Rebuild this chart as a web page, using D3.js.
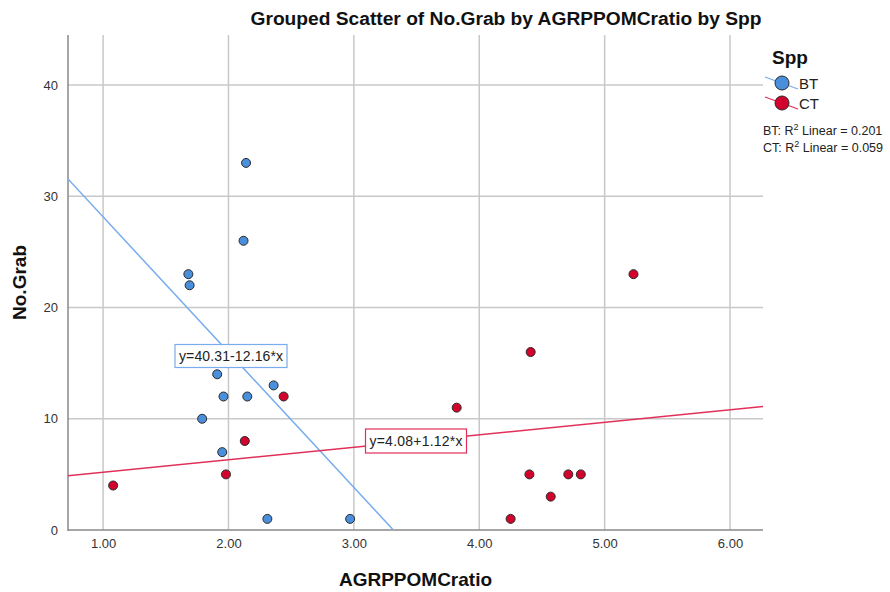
<!DOCTYPE html>
<html><head><meta charset="utf-8">
<script src="https://cdn.jsdelivr.net/npm/d3@7"></script>
<style>body{margin:0;background:#fff;font-family:"Liberation Sans",Arial,sans-serif;}</style>
</head><body>
<svg id="c" width="890" height="592"></svg>
<script>
const btX = [2.14, 2.12, 1.68, 1.69, 1.91, 2.36, 1.96, 2.15, 1.79, 1.95, 2.31, 2.97];
const btY = [33, 26, 23, 22, 14, 13, 12, 12, 10, 7, 1, 1];
const ctX = [1.08, 1.98, 2.13, 2.44, 3.82, 4.41, 5.23, 4.40, 4.71, 4.81, 4.57, 4.25];
const ctY = [4, 5, 8, 12, 11, 16, 23, 5, 5, 5, 3, 1];
const xTicks = [1, 2, 3, 4, 5, 6];
const yTicks = [0, 10, 20, 30, 40];
const fits = [{name:"BT", a:40.31, b:-12.16, label:"y=40.31-12.16*x", r2:"0.201"},
              {name:"CT", a:4.08, b:1.12, label:"y=4.08+1.12*x", r2:"0.059"}];

const svg = d3.select("#c");
const L=68, R=763, T=35, B=530;
const x = d3.scaleLinear().domain([0.72, 6.263]).range([L, R]);
const y = d3.scaleLinear().domain([0, 44.5]).range([B, T]);
const col = {BT:{fill:"#4a8fdc", line:"#78acec"}, CT:{fill:"#d2042d", line:"#e0305a"}};

// grid
svg.append("g").selectAll("line").data(xTicks).join("line")
  .attr("x1", d=>x(d)).attr("x2", d=>x(d)).attr("y1", T).attr("y2", B)
  .attr("stroke", "#c8c8c8").attr("stroke-width", 1.5);
svg.append("g").selectAll("line").data(yTicks.filter(d=>d>0)).join("line")
  .attr("x1", L).attr("x2", R).attr("y1", d=>y(d)).attr("y2", d=>y(d))
  .attr("stroke", "#c8c8c8").attr("stroke-width", 1.5);

// axes
const xa = svg.append("g").attr("transform", `translate(0,${B})`)
  .call(d3.axisBottom(x).tickValues(xTicks).tickFormat(d3.format(".2f")).tickSize(0).tickPadding(9));
const ya = svg.append("g").attr("transform", `translate(${L},0)`)
  .call(d3.axisLeft(y).tickValues(yTicks).tickSize(0).tickPadding(10));
[xa, ya].forEach(g=>{
  g.select(".domain").remove();
  g.selectAll("text").attr("font-size", 13).attr("fill", "#333").attr("font-family", "Liberation Sans, Arial");
});
svg.append("line").attr("x1", L).attr("x2", L).attr("y1", T).attr("y2", B+1).attr("stroke", "#888").attr("stroke-width", 1.5);
svg.append("line").attr("x1", L).attr("x2", R).attr("y1", B).attr("y2", B).attr("stroke", "#888").attr("stroke-width", 1.5);

// fit lines
svg.append("clipPath").attr("id", "pc").append("rect").attr("x", L).attr("y", T).attr("width", R-L).attr("height", B-T);
const [x0, x1] = x.domain();
fits.forEach(f=>{
  svg.append("line").attr("clip-path", "url(#pc)")
    .attr("x1", x(x0)).attr("y1", y(f.a+f.b*x0)).attr("x2", x(x1)).attr("y2", y(f.a+f.b*x1))
    .attr("stroke", col[f.name].line).attr("stroke-width", 1.5);
});

// points
function pts(xs, ys, name){
  svg.append("g").selectAll("circle").data(xs.map((d,i)=>[d, ys[i]])).join("circle")
    .attr("cx", d=>x(d[0])).attr("cy", d=>y(d[1])).attr("r", 4.5)
    .attr("fill", col[name].fill).attr("stroke", "#2a2a2a").attr("stroke-width", 1);
}
pts(btX, btY, "BT");
pts(ctX, ctY, "CT");

// fit labels
const labPos = [{cx:231, cy:356, w:112, h:23}, {cx:416, cy:441, w:101, h:24}];
fits.forEach((f,i)=>{
  const p = labPos[i];
  svg.append("rect").attr("x", p.cx-p.w/2).attr("y", p.cy-p.h/2).attr("width", p.w).attr("height", p.h)
    .attr("fill", "#fff").attr("stroke", col[f.name].line).attr("stroke-width", 1.2);
  svg.append("text").attr("x", p.cx).attr("y", p.cy+5).attr("text-anchor", "middle")
    .attr("font-size", 14).attr("fill", "#222").attr("textLength", p.w-8).text(f.label);
});

// titles
svg.append("text").attr("x", 506).attr("y", 25).attr("text-anchor", "middle")
  .attr("font-size", 19.2).attr("font-weight", "bold").attr("fill", "#111").text("Grouped Scatter of No.Grab by AGRPPOMCratio by Spp");
svg.append("text").attr("x", (L+R)/2).attr("y", 586).attr("text-anchor", "middle")
  .attr("font-size", 19).attr("font-weight", "bold").attr("fill", "#111").text("AGRPPOMCratio");
svg.append("text").attr("transform", `translate(26,${(T+B)/2}) rotate(-90)`).attr("text-anchor", "middle")
  .attr("font-size", 19).attr("font-weight", "bold").attr("fill", "#111").text("No.Grab");

// legend
svg.append("text").attr("x", 772).attr("y", 64).attr("font-size", 19).attr("font-weight", "bold").attr("fill", "#111").text("Spp");
fits.forEach((f,i)=>{
  const cy = 83 + i*20, cx = 782;
  svg.append("line").attr("x1", cx-17).attr("y1", cy-6).attr("x2", cx+16).attr("y2", cy+6)
    .attr("stroke", col[f.name].line).attr("stroke-width", 1.3);
  svg.append("circle").attr("cx", cx).attr("cy", cy).attr("r", 7)
    .attr("fill", col[f.name].fill).attr("stroke", "#2a2a2a").attr("stroke-width", 1);
  svg.append("text").attr("x", 799).attr("y", cy+6).attr("font-size", 15).attr("fill", "#222").text(f.name);
  const t = svg.append("text").attr("x", 763).attr("y", 135 + i*17).attr("font-size", 12.5).attr("fill", "#222");
  t.append("tspan").text(f.name + ": R");
  t.append("tspan").attr("dy", -5).attr("font-size", 9).text("2");
  t.append("tspan").attr("dy", 5).text(" Linear = " + f.r2);
});
</script>
</body></html>
